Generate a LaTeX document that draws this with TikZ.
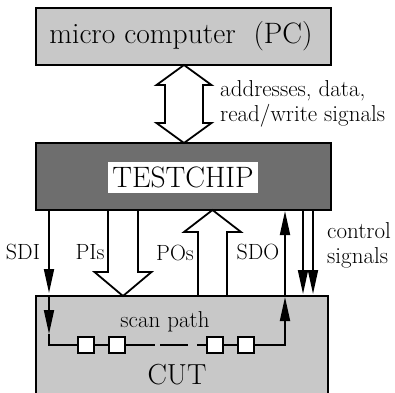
\documentclass[tikz,border=0pt]{standalone}
\usetikzlibrary{arrows.meta}
\definecolor{boxlight}{HTML}{C8C8C8}
\definecolor{boxdark}{HTML}{6E6E6E}
\begin{document}
\begin{tikzpicture}[x=1pt,y=-1pt]
      \tikzstyle{box} = [draw, line width=2.5pt, inner sep=0pt]
      \tikzstyle{fat} = [draw, line width=1.8pt, fill=white, line join=miter]
      \tikzstyle{sig} = [-{Triangle[length=24pt,width=10pt]}, line width=1.8pt]
      \tikzstyle{wire} = [line width=1.8pt]
      \tikzstyle{cell} = [draw, line width=1.8pt, fill=white, minimum size=16pt, inner sep=0pt]
      \tikzstyle{big} = [font=\fontsize{29.5}{34}\selectfont, inner sep=0pt]
      \tikzstyle{lbl} = [font=\fontsize{23}{25}\selectfont, inner sep=0pt, align=left]
      \tikzstyle{sname} = [font=\fontsize{22}{24}\selectfont, inner sep=0pt]

      \clip (0,0) rectangle (395,392);

      % boxes
      \node[box, fill=boxlight, minimum width=295pt, minimum height=57pt] (pc) at (183.5,36.5) {};
      \node[big] (pclbl) at (181,36) {micro computer\ \ (PC)};
      \node[box, fill=boxdark, minimum width=295pt, minimum height=67pt] (chip) at (183.5,176.5) {};
      \node[big, fill=white, minimum width=150pt, minimum height=31pt] (chiplbl) at (183,177.5) {TESTCHIP};
      \node[box, fill=boxlight, minimum width=292pt, minimum height=124pt] (cut) at (182,358) {};
      \node[big, font=\fontsize{29}{32}\selectfont] (cutlbl) at (177,375) {CUT};
      \node[lbl] (scanlbl) at (165,322) {scan path};

      % bus between PC and testchip
      \coordinate (bus1) at (184,65);
      \coordinate (bus2) at (184,143);
      \draw[fat] (bus1) -- ++(27.5,20) -- ++(-8.5,0) -- ++(0,38) -- ++(8.5,0) -- (bus2)
                 -- ++(-27.5,-20) -- ++(8.5,0) -- ++(0,-38) -- ++(-8.5,0) -- cycle;
      \node[lbl, anchor=west] (buslbl) at (220,104) {addresses, data,\\read/write signals};

      % primary inputs and outputs
      \coordinate (pis1) at (123,210);
      \coordinate (pis2) at (123,296);
      \draw[fat] (pis1) ++(-15,0) -- ++(0,62) -- ++(-13.5,0) -- (pis2)
                 -- ++(28.5,-24) -- ++(-13.5,0) -- ++(0,-62) -- cycle;
      \coordinate (pos1) at (212.5,296);
      \coordinate (pos2) at (212.5,210);
      \draw[fat] (pos1) ++(-14.5,0) -- ++(0,-64) -- ++(-14,0) -- (pos2)
                 -- ++(28.5,22) -- ++(-14,0) -- ++(0,64) -- cycle;

      % scan path
      \coordinate (sdi1) at (49,210);
      \coordinate (sdi2) at (49,296);
      \coordinate (sdi3) at (49,334);
      \coordinate (sdi4) at (49,345);
      \coordinate (g1) at (155,345);
      \coordinate (g2) at (160,345);
      \coordinate (g3) at (188,345);
      \coordinate (g4) at (197,345);
      \coordinate (sdo1) at (285,345);
      \coordinate (sdo2) at (285,297);
      \coordinate (sdo3) at (285,211);
      \node[cell] (c1) at (86,345) {};
      \node[cell] (c2) at (117,345) {};
      \node[cell] (c3) at (215,345) {};
      \node[cell] (c4) at (246,345) {};

      \draw[sig, shorten >=3pt] (sdi1) -- (sdi2);
      \draw[sig] (sdi2) -- (sdi3);
      \draw[wire] (sdi3) -- (sdi4) -- (c1);
      \draw[wire] (c1) -- (c2);
      \draw[wire] (c2) -- (g1);
      \draw[wire] (g2) -- (g3);
      \draw[wire] (g4) -- (c3);
      \draw[wire] (c3) -- (c4);
      \draw[sig] (c4) -- (sdo1) -- (sdo2);
      \draw[sig] (sdo2) -- (sdo3);

      % control signals
      \coordinate (ca1) at (303,210);
      \coordinate (ca2) at (303,294);
      \coordinate (cb1) at (313,210);
      \coordinate (cb2) at (313,294);
      \draw[sig] (ca1) -- (ca2);
      \draw[sig] (cb1) -- (cb2);

      % labels
      \node[sname] (sdilbl) at (23,252) {SDI};
      \node[sname] (pislbl) at (90,252) {PIs};
      \node[sname] (poslbl) at (175,253) {POs};
      \node[sname] (sdolbl) at (258,252) {SDO};
      \node[lbl, anchor=west] (ctrllbl) at (327,245) {control\\signals};
\end{tikzpicture}
\end{document}
